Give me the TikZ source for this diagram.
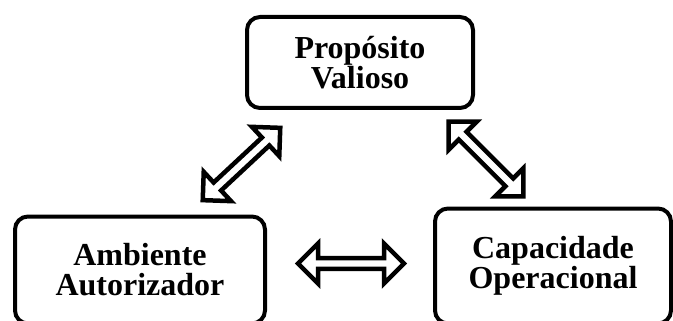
\documentclass[tikz,border=0pt]{standalone}
\usepackage{fontspec}
\setmainfont{Liberation Serif}
\usetikzlibrary{shapes.arrows}
\begin{document}
\begin{tikzpicture}[x=1pt,y=1pt,
  caixa/.style={draw,line width=4pt,rounded corners=13pt,inner sep=0pt,
    align=center,font=\fontsize{32}{30}\selectfont\bfseries},
  seta/.style={double arrow,draw,line width=4.5pt,fill=white,inner sep=0pt,
    double arrow head extend=6pt,double arrow tip angle=90,
    minimum width=40pt,minimum height=106pt}]
\useasboundingbox (0,0) rectangle (673,-321);
%			Les trois boites :
\node[caixa,minimum width=226pt,minimum height=91pt] (proposito) at (360,-62.5) {Propósito\\Valioso};
\node[caixa,minimum width=250pt,minimum height=107pt] (ambiente) at (140,-270) {Ambiente\\Autorizador};
\node[caixa,minimum width=236pt,minimum height=115pt] (capacidade) at (553,-266) {Capacidade\\Operacional};
%			Les fleches :
\node[seta,rotate=43] (setaesq) at (241.5,-164) {};
\node[seta,rotate=-45] (setadir) at (486,-159) {};
\node[seta] (setabaixo) at (351,-263.5) {};
\end{tikzpicture}
\end{document}
